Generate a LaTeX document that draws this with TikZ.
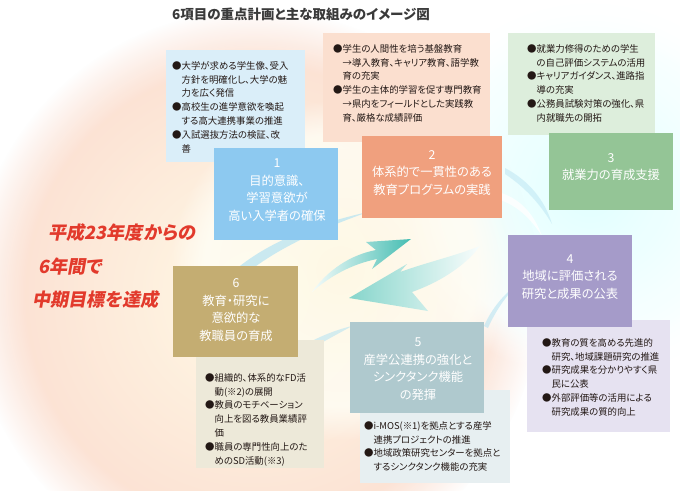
\documentclass[tikz,border=0pt]{standalone}
\usepackage{fontspec}
\setmainfont{Noto Sans CJK JP}[RawFeature=+palt]
\newfontfamily\redfont{Noto Sans CJK JP}[FakeSlant=0.18,RawFeature=+palt]
\usetikzlibrary{fadings,shadings}
\definecolor{bOne}{HTML}{8DC9F0}\definecolor{dOne}{HTML}{DAEEF9}
\definecolor{bTwo}{HTML}{F0A07E}\definecolor{dTwo}{HTML}{FBDFCF}
\definecolor{bThree}{HTML}{94C596}\definecolor{dThree}{HTML}{DDEEDC}
\definecolor{bFour}{HTML}{A59BC9}\definecolor{dFour}{HTML}{E6E2F1}
\definecolor{bFive}{HTML}{AFC9CE}\definecolor{dFive}{HTML}{E7EFF1}
\definecolor{bSix}{HTML}{C4AD72}\definecolor{dSix}{HTML}{EDE9D9}
\definecolor{redtxt}{HTML}{E23A2C}
\definecolor{titletxt}{HTML}{3A3A3A}
\definecolor{bodytxt}{HTML}{231815}
\definecolor{tealA}{HTML}{45BDB2}
\definecolor{tealB}{HTML}{86D5CB}
\definecolor{cream}{HTML}{FFFAE6}
\definecolor{peach}{HTML}{FBDDD0}
\definecolor{skyband}{HTML}{B9E4F2}
\newcommand{\ind}{\phantom{●}}
\begin{document}
\begin{tikzpicture}[x=1pt,y=-1pt,
  boxshape/.style={fill=#1, draw=none, inner sep=0pt, anchor=north west},
  maintext/.style={text=white, font=\fontsize{12.3}{17.5}\selectfont, align=center, inner sep=0pt},
  detailtext/.style={text=bodytxt, font=\fontsize{9.4}{13.9}\selectfont, align=left, inner sep=0pt, anchor=north west},
  redline/.style={text=redtxt, font=\redfont\bfseries\fontsize{18.2}{20}\selectfont, inner sep=0pt, anchor=west}]
\useasboundingbox (0,0) rectangle (680,490);
\fill[white] (0,0) rectangle (680,490);
% background glow
\shade[inner color=cream, outer color=peach, path fading=circle with fuzzy edge 20 percent] (255,295) circle (285);
\shade[inner color=cyan!13, outer color=white, path fading=circle with fuzzy edge 20 percent, opacity=0.9] (590,190) ellipse (190 and 190);
\shade[inner color=cream, outer color=cream!30, path fading=circle with fuzzy edge 20 percent, opacity=0.85] (340,270) circle (170);
% light swoosh bands
\fill[skyband, opacity=0.75] (222,282) .. controls (255,248) and (305,226) .. (368,212) .. controls (312,232) and (265,254) .. (232,286) -- cycle;
\fill[skyband, opacity=0.6] (296,350) .. controls (315,338) and (335,330) .. (352,326) .. controls (338,334) and (318,344) .. (300,356) -- cycle;
\fill[skyband, opacity=0.6] (484,326) .. controls (492,308) and (504,294) .. (518,284) .. controls (506,296) and (496,310) .. (488,328) -- cycle;
\fill[white, opacity=0.8] (498,192) .. controls (520,198) and (534,214) .. (542,236) .. controls (530,218) and (518,206) .. (498,199) -- cycle;
\fill[skyband, opacity=0.5] (505,168) .. controls (528,180) and (545,200) .. (552,224) .. controls (540,204) and (526,188) .. (505,174) -- cycle;
% teal arrows
\shade[left color=tealA!5, right color=tealA] (312,292) .. controls (328,270) and (350,255) .. (376,250) -- (366,242) -- (411,239) -- (372,269) -- (377,259) .. controls (352,264) and (330,276) .. (312,292) -- cycle;
\shade[left color=tealB, right color=tealB!5] (480,246) .. controls (455,256) and (428,262) .. (400,272) -- (407,264) -- (349,298) -- (428,311) -- (412,292) .. controls (440,282) and (465,266) .. (480,246) -- cycle;
% title
\node[text=titletxt, font=\bfseries\fontsize{13.5}{16}\selectfont, anchor=west, inner sep=0pt] (title) at (172,14) {6項目の重点計画と主な取組みのイメージ図};
% red text
\node[redline] (r1) at (48,233) {平成23年度からの};
\node[redline] (r2) at (38,267) {6年間で};
\node[redline] (r3) at (32,300) {中期目標を達成};
% detail boxes
\node[boxshape=dOne, minimum width=139pt, minimum height=112pt] (d1) at (166,50) {};
\node[boxshape=dTwo, minimum width=167pt, minimum height=109pt] (d2) at (323,33) {};
\node[boxshape=dThree, minimum width=147pt, minimum height=102pt] (d3) at (508,33) {};
\node[boxshape=dFour, minimum width=143pt, minimum height=112pt] (d4) at (527,320) {};
\node[boxshape=dFive, minimum width=150pt, minimum height=93pt] (d5) at (360,390) {};
\node[boxshape=dSix, minimum width=128pt, minimum height=128pt] (d6) at (196,340) {};
% main boxes
\node[boxshape=bOne, minimum width=124pt, minimum height=92pt] (m1) at (214,148) {};
\node[boxshape=bTwo, minimum width=140pt, minimum height=82pt] (m2) at (362,136) {};
\node[boxshape=bThree, minimum width=124pt, minimum height=77pt] (m3) at (549,133) {};
\node[boxshape=bFour, minimum width=124pt, minimum height=92pt] (m4) at (508,235) {};
\node[boxshape=bFive, minimum width=134pt, minimum height=91pt] (m5) at (350,322) {};
\node[boxshape=bSix, minimum width=125pt, minimum height=91pt] (m6) at (173,266) {};
% main texts
\node[maintext] (t1) at (277,190) {1\\目的意識、\\学習意欲が\\高い入学者の確保};
\node[maintext] (t2) at (432,173) {2\\体系的で一貫性のある\\教育プログラムの実践};
\node[maintext] (t3) at (611,167) {3\\就業力の育成支援};
\node[maintext] (t4) at (570,277) {4\\地域に評価される\\研究と成果の公表};
\node[maintext] (t5) at (418,369) {5\\産学公連携の強化と\\シンクタンク機能\\の発揮};
\node[maintext] (t6) at (236,310) {6\\教育・研究に\\意欲的な\\教職員の育成};
% detail texts
\node[detailtext] (x1) at (172,61) {●大学が求める学生像、受入\\\ind 方針を明確化し、大学の魅\\\ind 力を広く発信\\●高校生の進学意欲を喚起\\\ind する高大連携事業の推進\\●入試選抜方法の検証、改\\\ind 善};
\node[detailtext] (x2) at (333,44) {●学生の人間性を培う基盤教育\\\ind →導入教育、キャリア教育、語学教\\\ind 育の充実\\●学生の主体的学習を促す専門教育\\\ind →県内をフィールドとした実践教\\\ind 育、厳格な成績評価};
\node[detailtext] (x3) at (527,44) {●就業力修得のための学生\\\ind の自己評価システムの活用\\●キャリアガイダンス、進路指\\\ind 導の充実\\●公務員試験対策の強化、県\\\ind 内就職先の開拓};
\node[detailtext] (x4) at (542,338) {●教育の質を高める先進的\\\ind 研究、地域課題研究の推進\\●研究成果を分かりやすく県\\\ind 民に公表\\●外部評価等の活用による\\\ind 研究成果の質的向上};
\node[detailtext] (x5) at (364,421) {●i-MOS(※1)を拠点とする産学\\\ind 連携プロジェクトの推進\\●地域政策研究センターを拠点と\\\ind するシンクタンク機能の充実};
\node[detailtext] (x6) at (205,373) {●組織的、体系的なFD活\\\ind 動(※2)の展開\\●教員のモチベーション\\\ind 向上を図る教員業績評\\\ind 価\\●職員の専門性向上のた\\\ind めのSD活動(※3)};
\end{tikzpicture}
\end{document}
